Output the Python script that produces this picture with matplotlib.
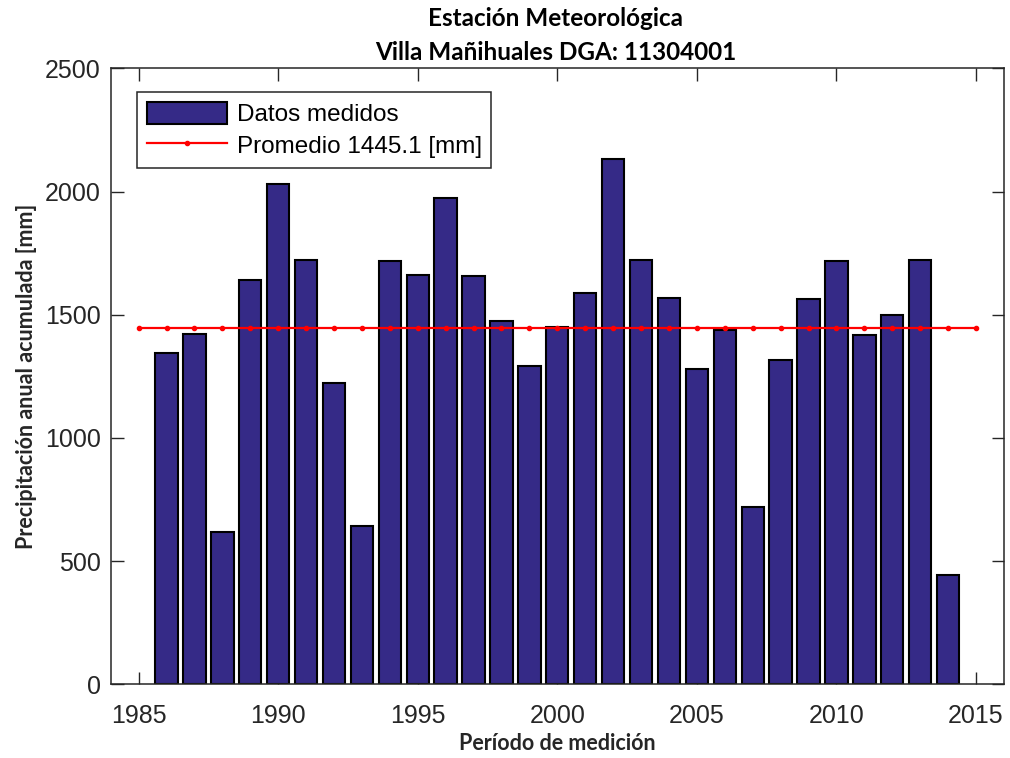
import matplotlib
matplotlib.use("Agg")
import matplotlib.pyplot as plt

years = list(range(1986, 2015))
precip = [1343, 1422, 617, 1641, 2029, 1723, 1222, 641, 1718, 1660,
          1974, 1656, 1474, 1292, 1450, 1588, 2131, 1723, 1568, 1281,
          1437, 719, 1317, 1564, 1718, 1416, 1499, 1723, 444]
mean_years = list(range(1985, 2016))
mean_value = 1445.1

title_lines = ["Estación Meteorológica", "Villa Mañihuales DGA: 11304001"]
xlabel = "Período de medición"
ylabel = "Precipitación anual acumulada [mm]"
xticks = [1985, 1990, 1995, 2000, 2005, 2010, 2015]
yticks = [0, 500, 1000, 1500, 2000, 2500]

TXT = "#262626"

fig = plt.figure(figsize=(10.1, 7.58), dpi=100)
ax = fig.add_axes([0.1096, 0.0972, 0.8844, 0.8127])

bars = ax.bar(years, precip, width=0.8, color="#352A87", edgecolor="black",
              linewidth=1.5, label="Datos medidos", zorder=2)
line, = ax.plot(mean_years, [mean_value] * len(mean_years), color="red", linewidth=1.6,
                marker="o", markersize=3, label=f"Promedio {mean_value} [mm]", zorder=3)

ax.set_xlim(1984, 2016)
ax.set_ylim(0, 2500)
ax.set_xticks(xticks)
ax.set_yticks(yticks)
ax.tick_params(direction="in", length=9, width=1, top=True, right=True,
               labelsize=18, colors=TXT)
ax.tick_params(axis="x", pad=14)
ax.tick_params(axis="y", pad=7)
for lab in ax.get_xticklabels() + ax.get_yticklabels():
    lab.set_family("Liberation Sans")
for sp in ax.spines.values():
    sp.set_color(TXT)
    sp.set_linewidth(1.1)

ax.set_xlabel(xlabel, family="Lato", fontweight="bold", fontsize=15.5, color=TXT, labelpad=4)
ax.set_ylabel(ylabel, family="Lato", fontweight="bold", fontsize=15.5, color=TXT, labelpad=6)
fig.text(0.55, 0.976, title_lines[0], ha="center", va="center", family="Lato",
         fontweight="bold", fontsize=17.5, color="black")
fig.text(0.55, 0.931, title_lines[1], ha="center", va="center", family="Lato",
         fontweight="bold", fontsize=17.5, color="black")

leg = ax.legend(handles=[bars, line], loc="upper left", bbox_to_anchor=(0.0294, 0.961),
                borderaxespad=0, fancybox=False, edgecolor=TXT, framealpha=1,
                prop={"family": "Liberation Sans", "size": 17.5}, handlelength=3.3,
                handleheight=1.0, borderpad=0.4, labelspacing=0.31, handletextpad=0.4)
leg.get_frame().set_linewidth(1.1)

fig.savefig("out.png", dpi=100)
